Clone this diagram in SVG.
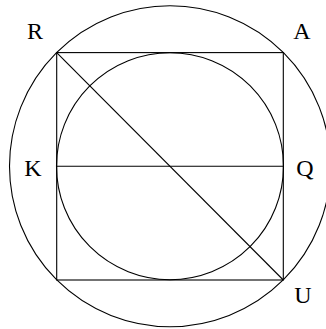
<svg xmlns="http://www.w3.org/2000/svg" width="326" height="329" viewBox="0 0 326 329">
<style>
.s{fill:none;stroke:#000;stroke-width:1.1}
.t{font-family:"Liberation Serif","Times New Roman",serif;font-size:24px;font-weight:400;fill:#000;text-anchor:middle}
</style>
<rect width="326" height="329" fill="#fff"/>
<g id="outer-circle"><circle class="s" cx="170" cy="166.2" r="160.5"/></g>
<g id="inner-circle"><circle class="s" cx="170" cy="166.2" r="113.5"/></g>
<g id="square"><rect class="s" x="56.7" y="52.6" width="226.6" height="227.4"/></g>
<g id="connectors">
<line class="s" x1="56.7" y1="52.6" x2="283.3" y2="280"/>
<line class="s" x1="56.7" y1="166.2" x2="283.3" y2="166.2"/>
</g>
<g id="R"><text class="t" x="35" y="39">R</text></g>
<g id="A"><text class="t" x="302" y="39">A</text></g>
<g id="K"><text class="t" x="33" y="176">K</text></g>
<g id="Q"><text class="t" x="305" y="176">Q</text></g>
<g id="U"><text class="t" x="303" y="303">U</text></g>
</svg>
